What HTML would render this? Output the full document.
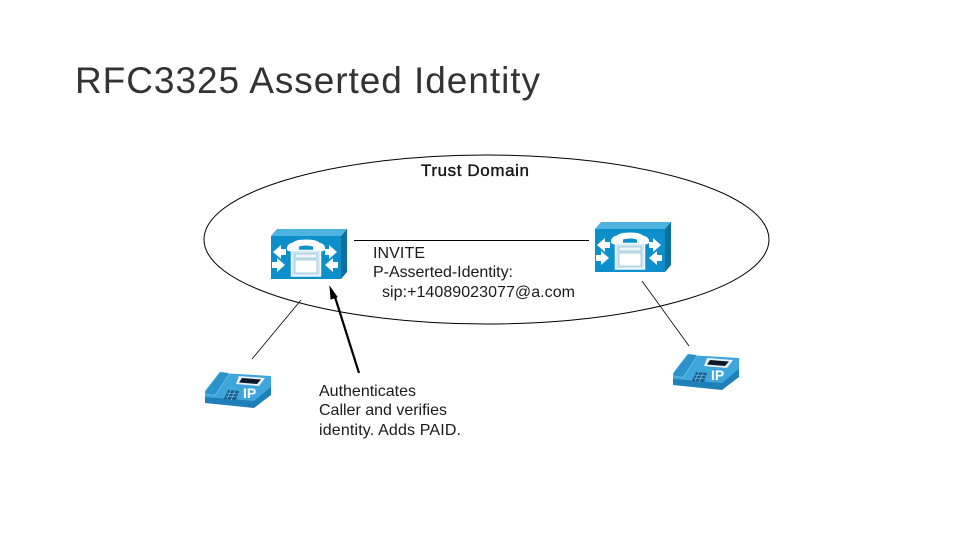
<!DOCTYPE html>
<html><head><meta charset="utf-8"><style>
html,body{margin:0;padding:0;background:#fff;width:960px;height:540px;overflow:hidden}
svg{display:block}
text{font-family:"Liberation Sans",sans-serif;fill:#1a1a1a}
</style></head><body>
<svg width="960" height="540" viewBox="0 0 960 540" xmlns="http://www.w3.org/2000/svg">
<defs>
<g id="srv">
<polygon points="271,236 277,229 347,229 341,236" fill="#4fb3e0"/>
<polygon points="341,236 347,229 347,272 341,279" fill="#0d6f9e"/>
<rect x="271" y="236" width="70" height="43" fill="#0c8fcb"/>
<path d="M287,250 q-1,-6 6,-7.500 q3,-3 13,-3 q10,0 13,3 q7,1.500 6,7.500 q-2,2 -9,1.500 q-3,0 -3,-3 v-2 q-7,-2 -14,0 v2 q0,3 -3,3 q-7,.5 -9,-1.500 z" fill="#fff"/>
<rect x="291.500" y="250.500" width="29" height="25.500" fill="#cfe5f0" stroke="#f4fafd" stroke-width="1.500"/>
<rect x="295" y="254" width="22" height="4" fill="#eef7fb" stroke="#7fb4cf" stroke-width=".6"/>
<rect x="295" y="260" width="22" height="13" fill="#fff" stroke="#7fb4cf" stroke-width=".6"/>
<path d="M273,252 l8,-7 v4 h5 v6 h-5 v4 z M285,265 l-8,-7 v4 h-5 v6 h5 v4 z" fill="#fff"/>
<path d="M325,249 h4 v-4 l8,7 -8,7 v-4 h-4 z M338,262 h-5 v-4 l-8,7 8,7 v-4 h5 z" fill="#fff"/>
</g>
<g id="ph">
<polygon points="205,393 205,403 254,408 271,395 271,386 254,400" fill="#1f7fb8"/>
<polygon points="205,393 220,373 271,376 271,387 254,401 205,397" fill="#3fa6dc"/>
<path d="M220,372 l8,1 q2,2 0,3 l-12,18 q-2,2 -4,1 l-6,-1 q-2,-1 0,-4 z" fill="#2b93cc" stroke="#7cc6ea" stroke-width=".6"/>
<polygon points="239,376 265,378 259,386 236,384" fill="#eaf4fa"/>
<polygon points="242,378 261,379.500 257,384 239,382.500" fill="#0b1a2a"/>
<polygon points="228,390 239,391 236,400 224,399" fill="#15608f"/>
<g stroke="#8fd0ee" stroke-width=".6">
<line x1="227" y1="393" x2="238" y2="394"/><line x1="226" y1="396" x2="237" y2="397"/>
<line x1="231" y1="390" x2="227" y2="399"/><line x1="235" y1="391" x2="231" y2="400"/>
</g>
</g>
</defs>
<text x="75" y="93" font-size="37" textLength="465" lengthAdjust="spacing" style="fill:#333">RFC3325 Asserted Identity</text>
<ellipse cx="486.500" cy="239.500" rx="282.500" ry="84.500" fill="none" stroke="#000" stroke-width="1"/>
<line x1="354" y1="240.500" x2="589" y2="240.500" stroke="#000"/>
<line x1="301" y1="300" x2="252" y2="359" stroke="#000" stroke-width=".8"/>
<line x1="642" y1="281" x2="689" y2="346" stroke="#000" stroke-width=".8"/>
<use href="#srv"/>
<use href="#srv" transform="translate(324,-7)"/>
<use href="#ph"/>
<use href="#ph" transform="translate(468,-18)"/>
<text x="243" y="398" font-size="14" font-weight="bold" style="fill:#fff">IP</text>
<text x="711" y="380" font-size="14" font-weight="bold" style="fill:#fff">IP</text>
<line x1="359" y1="373" x2="335" y2="297" stroke="#000" stroke-width="2.200"/>
<polygon points="330,287 337,297 331,299" fill="#000" stroke="#000" stroke-width="1"/>
<text x="421" y="176" font-size="17" textLength="108" lengthAdjust="spacing" stroke="#000" stroke-width=".35">Trust Domain</text>
<g font-size="16">
<text x="373" y="258" textLength="52">INVITE</text>
<text x="373" y="277" textLength="140">P-Asserted-Identity:</text>
<text x="382" y="297" textLength="193">sip:+14089023077@a.com</text>
<text x="319" y="396" textLength="97">Authenticates</text>
<text x="319" y="415" textLength="128">Caller and verifies</text>
<text x="319" y="435" textLength="142">identity. Adds PAID.</text>
</g>
</svg>
</body></html>
